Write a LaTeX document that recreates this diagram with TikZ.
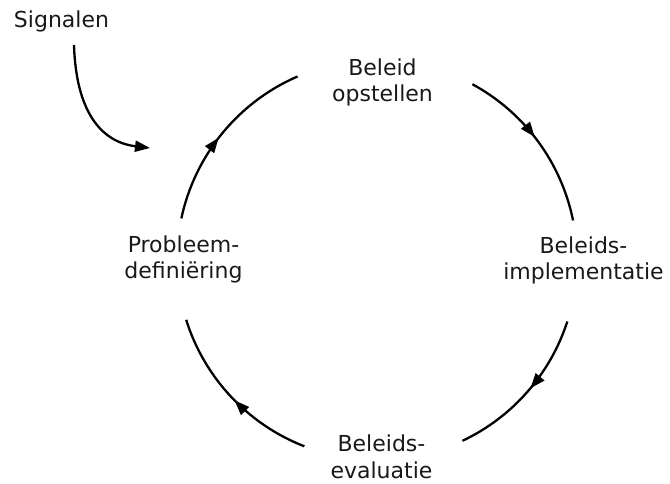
\documentclass[tikz,border=0pt]{standalone}
\usepackage{fontspec}
\setmainfont{DejaVu Sans}
\usetikzlibrary{arrows.meta,decorations.markings,calc}
\begin{document}
\begin{tikzpicture}[x=1pt,y=-1pt,
  lbl/.style={align=center,inner sep=0pt,font=\fontsize{22}{26.5}\selectfont,text=black!90},
  flow/.style={line width=2.3pt,postaction={decorate},
    decoration={markings,mark=at position 0.47 with {\arrow{Triangle[length=15pt,width=11pt]}}}},
  sigline/.style={line width=2.3pt,-{Triangle[length=15pt,width=11pt]}}]
\useasboundingbox (0,0) rectangle (670,484);
\coordinate (c) at (377,260);
% labels
\node[lbl,anchor=base] (sig) at (61.5,28) {Signalen};
\node[lbl] (beleid) at (382.5,82.5) {Beleid\\opstellen};
\node[lbl] (impl) at (583.5,260.5) {Beleids-\\implementatie};
\node[lbl] (eval) at (381.5,457) {Beleids-\\evaluatie};
\node[lbl] (prob) at (183.5,259.5) {Probleem-\\definiëring};
% arc start points
\coordinate (a1) at ($(c)+(192:200)$);
\coordinate (a2) at ($(c)+(298.5:200)$);
\coordinate (a3) at ($(c)+(17.9:200)$);
\coordinate (a4) at ($(c)+(111.3:200)$);
% cycle arcs
\draw[flow] (a1) arc[start angle=192,end angle=246.6,radius=200];
\draw[flow] (a2) arc[start angle=298.5,end angle=348.6,radius=200];
\draw[flow] (a3) arc[start angle=17.9,end angle=64.7,radius=200];
\draw[flow] (a4) arc[start angle=111.3,end angle=162.6,radius=200];
% signal arrow
\coordinate (s0) at (74,45);
\coordinate (s1) at (150,148);
\draw[sigline] (s0) .. controls (76,110) and (100,142) .. (s1);
\end{tikzpicture}
\end{document}
